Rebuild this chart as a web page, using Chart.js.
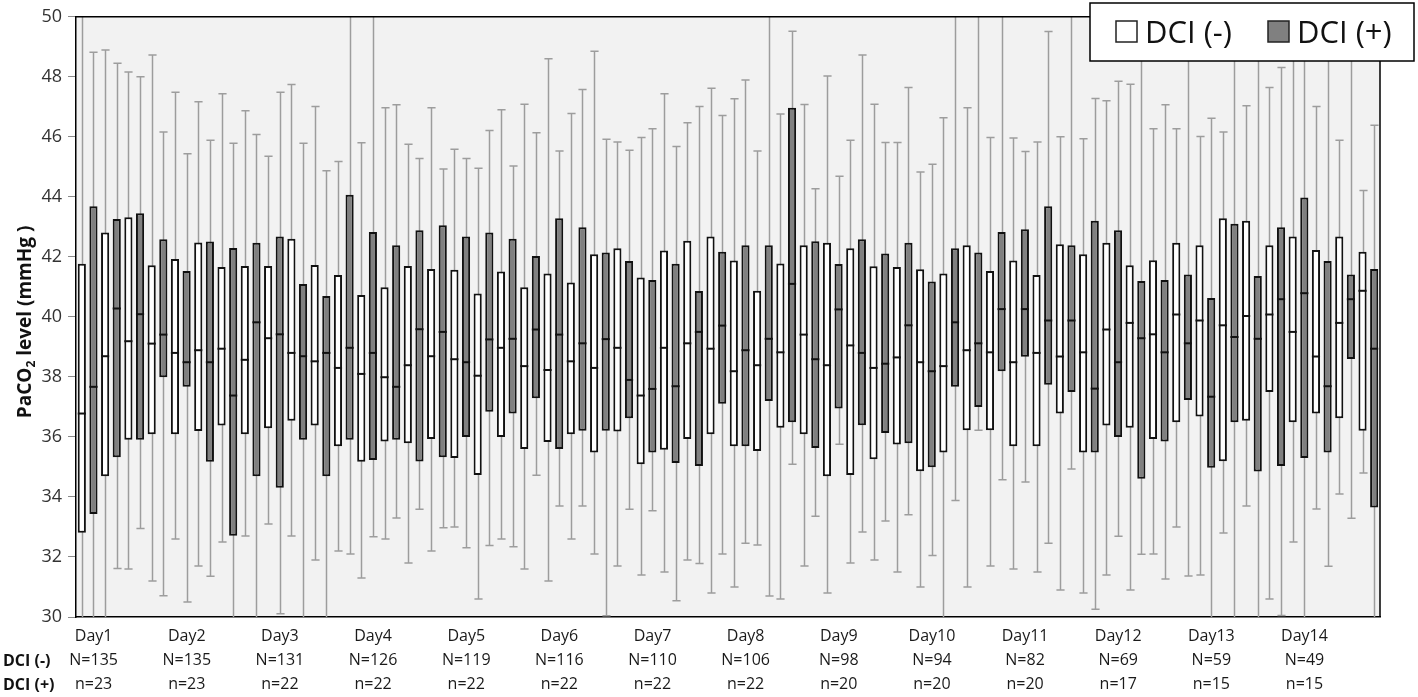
<!DOCTYPE html>
<html>
<head>
<meta charset="utf-8">
<script src="https://cdn.jsdelivr.net/npm/chart.js@4.4.1/dist/chart.umd.min.js"></script>
<style>
html, body { margin: 0; padding: 0; background: #fff; }
#wrap { position: relative; width: 1418px; height: 697px; }
</style>
</head>
<body>
<div id="wrap"><canvas id="chart"></canvas></div>
<script>
"use strict";
// 14 days, 4 sampling slots per day, two groups per slot
const days = ['Day1', 'Day2', 'Day3', 'Day4', 'Day5', 'Day6', 'Day7', 'Day8', 'Day9', 'Day10', 'Day11', 'Day12', 'Day13', 'Day14'];
const nNeg = [135, 135, 131, 126, 119, 116, 110, 106, 98, 94, 82, 69, 59, 49];
const nPos = [23, 23, 22, 22, 22, 22, 22, 22, 20, 20, 20, 17, 15, 15];
const slotsPerDay = 4;
const yTicks = { min: 30, max: 50, step: 2 };

// DCI (-)
const negMin = [29, 29, 31.6, 31.2, 32.6, 31.7, 32.5, 32.7, 33.1, 32.7, 31.9, 32.2, 31.3, 32.6, 31.8, 32.2,
    33.0, 30.6, 32.6, 31.6, 31.2, 32.6, 32.1, 31.7, 31.4, 31.5, 31.9, 30.8, 31.0, 32.4, 30.6, 31.7,
    30.8, 31.8, 31.9, 31.5, 31.0, 29, 31.0, 31.7, 31.6, 31.5, 30.9, 30.8, 31.4, 30.9, 32.1, 33.0,
    31.4, 32.8, 33.7, 30.6, 32.5, 33.6, 34.1, 34.8];
const negQ1 = [32.81, 34.69, 35.91, 36.09, 36.09, 36.20, 36.38, 36.09, 36.29, 36.54, 36.38, 35.69, 35.17, 35.85, 35.79, 35.93,
    35.30, 34.73, 36.00, 35.60, 35.83, 36.09, 35.48, 36.18, 35.09, 35.57, 35.93, 36.09, 35.69, 35.53, 36.31, 36.09,
    34.69, 34.73, 35.26, 35.75, 34.86, 35.48, 36.22, 36.22, 35.69, 35.69, 36.78, 35.48, 36.38, 36.31, 35.93, 36.49,
    36.68, 35.19, 36.54, 37.50, 36.49, 36.78, 36.62, 36.21];
const negMed = [36.78, 38.69, 39.19, 39.11, 38.80, 38.89, 38.94, 38.57, 39.29, 38.80, 38.52, 38.30, 38.10, 37.99, 38.39, 38.69,
    38.59, 38.04, 38.97, 38.36, 38.23, 38.52, 38.30, 38.97, 37.38, 38.97, 39.12, 38.94, 38.19, 38.39, 38.82, 39.41,
    38.39, 39.05, 38.30, 38.65, 38.49, 38.36, 38.89, 38.82, 38.49, 38.80, 38.68, 38.82, 39.58, 39.80, 39.42, 40.08,
    39.88, 39.72, 40.03, 40.08, 39.50, 38.68, 39.80, 40.87];
const negQ3 = [41.77, 42.81, 43.32, 41.72, 41.93, 42.48, 41.66, 41.70, 41.70, 42.60, 41.73, 41.40, 40.73, 40.99, 41.70, 41.60,
    41.57, 40.78, 41.51, 40.99, 41.45, 41.15, 42.09, 42.29, 41.31, 42.21, 42.54, 42.68, 41.88, 40.87, 41.78, 42.39,
    42.47, 42.29, 41.69, 41.66, 41.59, 41.45, 42.39, 41.53, 41.88, 41.40, 42.42, 42.09, 42.47, 41.72, 41.89, 42.47,
    42.39, 43.29, 43.20, 42.39, 42.68, 42.23, 42.68, 42.17];
const negMax = [51, 48.89, 48.16, 48.73, 47.49, 47.17, 47.44, 46.87, 45.35, 47.74, 47.01, 45.18, 45.80, 46.97, 45.75, 46.97,
    45.59, 44.95, 46.90, 47.09, 48.60, 46.78, 48.85, 45.83, 45.98, 47.44, 46.47, 47.62, 47.27, 45.53, 46.76, 47.08,
    48.03, 45.89, 47.09, 45.81, 44.83, 46.64, 46.97, 45.98, 45.96, 45.83, 46.00, 45.94, 47.20, 47.75, 46.27, 46.27,
    46.01, 46.16, 47.04, 47.64, 51, 47.01, 45.89, 44.21];

// DCI (+)
const posMin = [29, 31.62, 32.95, 30.71, 30.50, 31.36, 29, 29, 30.11, 29, 29, 32.10, 32.67, 33.30, 33.59, 32.97,
    32.31, 32.38, 32.34, 34.72, 33.70, 33.70, 30.04, 33.59, 33.54, 30.54, 31.78, 32.10, 32.46, 30.70, 35.09, 33.36,
    35.76, 32.83, 33.20, 33.41, 32.05, 33.88, 36.22, 34.57, 34.50, 32.46, 34.93, 30.26, 32.69, 32.09, 31.27, 31.37,
    29, 29, 29, 30.05, 29, 31.69, 33.29, 29];
const posQ1 = [33.43, 35.32, 35.91, 37.99, 37.67, 35.17, 32.71, 34.69, 34.31, 35.91, 34.69, 35.91, 35.23, 35.91, 35.18, 35.32,
    36.00, 36.84, 36.78, 37.29, 35.60, 36.21, 36.21, 36.62, 35.48, 35.13, 35.03, 37.11, 35.69, 37.20, 36.49, 35.63,
    36.95, 36.39, 36.13, 35.79, 34.99, 37.67, 37.00, 38.19, 38.67, 37.74, 37.50, 35.48, 36.00, 34.61, 35.85, 37.23,
    34.97, 36.49, 34.85, 35.03, 35.30, 35.48, 38.60, 33.65];
const posMed = [37.67, 40.28, 40.09, 39.41, 38.49, 38.49, 37.38, 39.82, 39.42, 38.69, 38.80, 38.97, 38.80, 37.67, 39.59, 39.50,
    38.49, 39.25, 39.27, 39.58, 39.41, 39.12, 39.26, 37.90, 37.60, 37.69, 39.50, 39.71, 38.89, 39.27, 41.10, 38.59,
    40.25, 38.80, 38.44, 39.72, 38.19, 39.82, 39.12, 40.26, 40.26, 39.88, 39.88, 37.61, 38.49, 39.29, 38.82, 39.12,
    37.34, 39.33, 39.27, 40.59, 40.79, 37.69, 40.59, 38.94];
const posQ3 = [43.69, 43.26, 43.45, 42.59, 41.53, 42.51, 42.30, 42.47, 42.68, 41.10, 40.70, 44.07, 42.83, 42.39, 42.89, 43.05,
    42.68, 42.81, 42.60, 42.03, 43.29, 42.99, 42.15, 41.86, 41.23, 41.77, 40.86, 42.17, 42.39, 42.39, 46.97, 42.52,
    41.76, 42.59, 42.11, 42.47, 41.18, 42.29, 42.15, 42.83, 42.92, 43.69, 42.39, 43.20, 42.89, 41.20, 41.23, 41.41,
    40.63, 43.10, 41.36, 42.99, 43.98, 41.86, 41.41, 41.60];
const posMax = [48.82, 48.45, 48.00, 46.16, 45.44, 45.89, 45.79, 46.08, 47.49, 45.79, 44.87, 51, 51, 47.07, 45.28, 44.93,
    45.28, 46.21, 45.03, 46.14, 45.53, 47.58, 45.92, 45.55, 46.27, 45.68, 47.01, 46.71, 47.89, 51, 49.52, 44.27,
    44.69, 48.73, 45.81, 47.64, 45.09, 51, 51, 51, 45.51, 49.51, 51, 47.28, 47.85, 51, 47.07, 51,
    46.62, 51, 51, 48.31, 51, 51, 51, 46.39];

let categories = [];
days.forEach(d => {
    for (let s = 1; s <= slotsPerDay; s++) categories.push(d + ' #' + s);
});

let stats = [
    { min: negMin, q1: negQ1, med: negMed, q3: negQ3, max: negMax },
    { min: posMin, q1: posQ1, med: posMed, q3: posQ3, max: posMax }
];

const FONT = '"Open Sans", "Liberation Sans", sans-serif';

let boxParts = {
    id: 'boxParts',
    beforeDraw(chart) {
        let { ctx, chartArea: a } = chart;
        ctx.save();
        ctx.fillStyle = '#f2f2f2';
        ctx.fillRect(a.left, a.top, a.right - a.left, a.bottom - a.top);
        ctx.restore();
    },
    beforeDatasetsDraw(chart) {
        // whiskers go behind the boxes
        let { ctx, chartArea: a } = chart;
        let y = chart.scales.y;
        ctx.save();
        ctx.beginPath();
        ctx.rect(a.left, a.top, a.right - a.left, a.bottom - a.top);
        ctx.clip();
        ctx.strokeStyle = '#9d9d9d';
        ctx.lineWidth = 1.5;
        stats.forEach((s, d) => {
            chart.getDatasetMeta(d).data.forEach((bar, i) => {
                let x = Math.round(bar.x) + 0.5;
                let half = bar.width / 2;
                let yMax = y.getPixelForValue(s.max[i]);
                let yMin = y.getPixelForValue(s.min[i]);
                ctx.beginPath();
                ctx.moveTo(x, yMax);
                ctx.lineTo(x, yMin);
                ctx.moveTo(x - half, yMax);
                ctx.lineTo(x + half, yMax);
                ctx.moveTo(x - half, yMin);
                ctx.lineTo(x + half, yMin);
                ctx.stroke();
            });
        });
        ctx.restore();
    },
    afterDatasetsDraw(chart) {
        let { ctx } = chart;
        let y = chart.scales.y;
        ctx.save();
        ctx.strokeStyle = '#111';
        ctx.lineWidth = 2;
        stats.forEach((s, d) => {
            chart.getDatasetMeta(d).data.forEach((bar, i) => {
                let half = bar.width / 2;
                let ym = y.getPixelForValue(s.med[i]);
                ctx.beginPath();
                ctx.moveTo(bar.x - half, ym);
                ctx.lineTo(bar.x + half, ym);
                ctx.stroke();
            });
        });
        ctx.restore();
    },
    afterDraw(chart) {
        let { ctx, chartArea: a } = chart;
        ctx.save();
        // top and right frame
        ctx.strokeStyle = '#000';
        ctx.lineWidth = 1.5;
        ctx.beginPath();
        ctx.moveTo(a.left, a.top);
        ctx.lineTo(a.right, a.top);
        ctx.lineTo(a.right, a.bottom);
        ctx.stroke();

        // y axis title with subscript
        ctx.fillStyle = '#111';
        ctx.textBaseline = 'middle';
        ctx.textAlign = 'left';
        let big = 'bold 19px ' + FONT, small = 'bold 12px ' + FONT;
        let parts = [['PaCO', big, 0], ['2', small, 6], [' level (mmHg )', big, 0]];
        let total = 0;
        parts.forEach(p => { ctx.font = p[1]; total += ctx.measureText(p[0]).width; });
        ctx.translate(26, (a.top + a.bottom) / 2 + 5);
        ctx.rotate(-Math.PI / 2);
        let px = -total / 2;
        parts.forEach(p => {
            ctx.font = p[1];
            ctx.fillText(p[0], px, p[2]);
            px += ctx.measureText(p[0]).width;
        });
        ctx.setTransform(chart.currentDevicePixelRatio, 0, 0, chart.currentDevicePixelRatio, 0, 0);

        // row captions under the x axis
        ctx.font = 'bold 16px ' + FONT;
        ctx.fillStyle = '#111';
        ctx.textAlign = 'left';
        ctx.fillText('DCI (-)', 3, a.bottom + 44);
        ctx.fillText('DCI (+)', 3, a.bottom + 68);

        // legend box, top right
        let lw = 324, lh = 58;
        let lx = chart.width - lw - 4, ly = 3;
        ctx.fillStyle = '#fff';
        ctx.fillRect(lx, ly, lw, lh);
        ctx.strokeStyle = '#000';
        ctx.lineWidth = 1.5;
        ctx.strokeRect(lx, ly, lw, lh);
        let items = [['DCI (-)', '#fff', lx + 26], ['DCI (+)', '#808080', lx + 178]];
        ctx.font = '31px ' + FONT;
        ctx.textBaseline = 'alphabetic';
        items.forEach(it => {
            ctx.fillStyle = it[1];
            ctx.fillRect(it[2], ly + 18, 21, 21);
            ctx.strokeStyle = '#222';
            ctx.lineWidth = 1.5;
            ctx.strokeRect(it[2], ly + 18, 21, 21);
            ctx.fillStyle = '#111';
            ctx.fillText(it[0], it[2] + 29, ly + 40);
        });
        ctx.restore();
    }
};

let ctx = document.getElementById('chart').getContext('2d');
let chart = new Chart(ctx, {
    type: 'bar',
    data: {
        labels: categories,
        datasets: [
            {
                label: 'DCI (-)',
                data: negQ1.map((q, i) => [q, negQ3[i]]),
                backgroundColor: '#ffffff',
                borderColor: '#111111',
                borderWidth: 2,
                borderSkipped: false,
                categoryPercentage: 1.0,
                barPercentage: 0.7
            },
            {
                label: 'DCI (+)',
                data: posQ1.map((q, i) => [q, posQ3[i]]),
                backgroundColor: '#808080',
                borderColor: '#111111',
                borderWidth: 2,
                borderSkipped: false,
                categoryPercentage: 1.0,
                barPercentage: 0.7
            }
        ]
    },
    options: {
        responsive: true,
        maintainAspectRatio: false,
        animation: false,
        layout: { padding: { top: 14, right: 38, left: 0, bottom: 0 } },
        plugins: {
            legend: { display: false },
            tooltip: { enabled: false }
        },
        scales: {
            x: {
                grid: { display: false, drawTicks: false },
                border: { display: true, color: '#000', width: 1.5 },
                ticks: {
                    autoSkip: false,
                    maxRotation: 0,
                    minRotation: 0,
                    padding: 7,
                    labelOffset: 6,
                    color: '#1a1a1a',
                    font: { family: FONT, size: 16, lineHeight: 1.5 },
                    callback: (v, i) => {
                        if (i % slotsPerDay !== 0) return '';
                        let d = i / slotsPerDay;
                        return [days[d], 'N=' + nNeg[d], 'n=' + nPos[d]];
                    }
                },
                afterFit: s => { s.height = 80; }
            },
            y: {
                min: yTicks.min,
                max: yTicks.max,
                grid: { drawOnChartArea: false, drawTicks: true, tickLength: 8, color: '#8a8a8a' },
                border: { display: true, color: '#000', width: 1.5 },
                ticks: {
                    stepSize: yTicks.step,
                    padding: 6,
                    color: '#333',
                    font: { family: FONT, size: 18 }
                },
                afterFit: s => { s.width = 76; }
            }
        }
    },
    plugins: [boxParts]
});
</script>
</body>
</html>
